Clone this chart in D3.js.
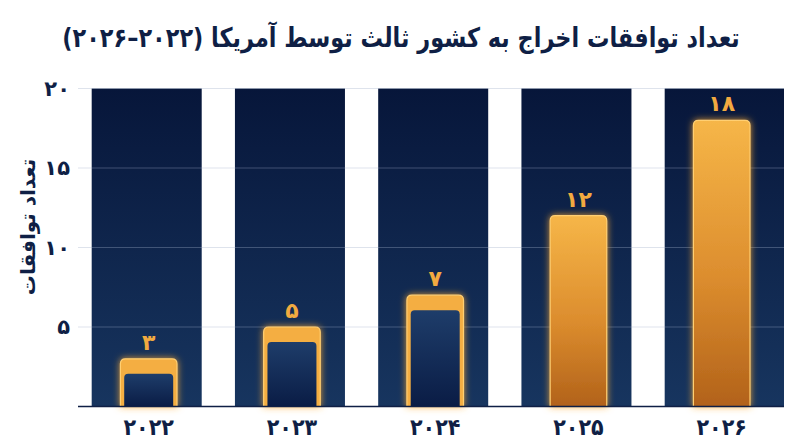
<!DOCTYPE html>
<html><head><meta charset="utf-8">
<script src="https://cdn.jsdelivr.net/npm/d3@7/dist/d3.min.js"></script>
<style>
html,body{margin:0;padding:0;background:#fff;}
svg{display:block;}
text{font-family:"DejaVu Sans",sans-serif;font-weight:bold;}
</style></head>
<body>
<svg id="c" width="800" height="447"></svg>
<script>
const years = [2022, 2023, 2024, 2025, 2026];
const values = [3, 5, 7, 12, 18];
const yTicks = [5, 10, 15, 20];
const filledYears = [2025, 2026];
const title = "تعداد توافقات اخراج به کشور ثالث توسط آمریکا (۲۰۲۲–۲۰۲۶)";
const yLabel = "تعداد توافقات";

const fa = n => String(n).replace(/\d/g, d => "۰۱۲۳۴۵۶۷۸۹"[d]);
const navy = "#0f1f45";

const svg = d3.select("#c");
const plotL = 78, plotR = 784, plotT = 88.5, plotB = 406.5;

const y = d3.scaleLinear().domain([0, 20]).range([plotB, plotT]);
const x = d3.scalePoint().domain(years).range([148.7, 721.7]);
const step = x.step();
const barW = step * 0.395;
const colL = step * 0.398, colW = step * 0.768;

const defs = svg.append("defs");
const colGrad = defs.append("linearGradient").attr("id","colG").attr("x1",0).attr("x2",0).attr("y1",0).attr("y2",1);
colGrad.append("stop").attr("offset","0%").attr("stop-color","#07163a");
colGrad.append("stop").attr("offset","100%").attr("stop-color","#17355f");
const orGrad = defs.append("linearGradient").attr("id","orG").attr("x1",0).attr("x2",0).attr("y1",0).attr("y2",1);
orGrad.append("stop").attr("offset","0%").attr("stop-color","#f6b648");
orGrad.append("stop").attr("offset","55%").attr("stop-color","#dc8d2e");
orGrad.append("stop").attr("offset","100%").attr("stop-color","#b2621a");
const inGrad = defs.append("linearGradient").attr("id","inG").attr("x1",0).attr("x2",0).attr("y1",0).attr("y2",1);
inGrad.append("stop").attr("offset","0%").attr("stop-color","#1e3d6a");
inGrad.append("stop").attr("offset","100%").attr("stop-color","#0a1c45");
const glow = defs.append("filter").attr("id","glow").attr("x","-40%").attr("y","-40%").attr("width","180%").attr("height","180%");
glow.append("feGaussianBlur").attr("in","SourceAlpha").attr("stdDeviation",3.5).attr("result","b");
glow.append("feFlood").attr("flood-color","#ffab2e").attr("flood-opacity",0.85);
glow.append("feComposite").attr("in2","b").attr("operator","in").attr("result","g");
const m = glow.append("feMerge");
m.append("feMergeNode").attr("in","g");
m.append("feMergeNode").attr("in","SourceGraphic");

// title
svg.append("text").attr("transform","translate(401,47) scale(0.83,1)").attr("text-anchor","middle")
  .attr("direction","rtl").attr("font-size",27).attr("fill",navy).text(title);

// background columns
svg.selectAll(".col").data(years).join("rect")
  .attr("x", d => x(d) - colL)
  .attr("y", plotT)
  .attr("width", (d,i) => i === years.length-1 ? plotR - (x(d) - colL) : colW)
  .attr("height", plotB - plotT)
  .attr("fill","url(#colG)");

// gridlines
svg.selectAll(".grid").data(yTicks).join("line")
  .attr("x1", plotL).attr("x2", plotR)
  .attr("y1", d => y(d)).attr("y2", d => y(d))
  .attr("stroke","rgb(160,175,200)").attr("stroke-opacity",0.35).attr("stroke-width",1.2);

// y tick labels
svg.selectAll(".yt").data(yTicks).join("text")
  .attr("x", 70).attr("y", d => y(d) + 7).attr("text-anchor","end")
  .attr("font-size",21).attr("fill",navy).text(d => fa(d));

// y label
svg.append("text").attr("transform",`translate(35,227) rotate(-90)`)
  .attr("text-anchor","middle").attr("direction","rtl").attr("font-size",20).attr("fill",navy).text(yLabel);

const data = years.map((yr,i) => ({yr, v: values[i], filled: filledYears.includes(yr)}));

function topRounded(x0, y0, w, h, r) {
  return `M${x0},${y0+h}V${y0+r}Q${x0},${y0} ${x0+r},${y0}H${x0+w-r}Q${x0+w},${y0} ${x0+w},${y0+r}V${y0+h}Z`;
}

const g = svg.append("g");
g.selectAll(".bar").data(data).join("path")
  .attr("d", d => topRounded(x(d.yr) - barW/2, y(d.v), barW, plotB - y(d.v), 5))
  .attr("fill", d => d.filled ? "url(#orG)" : "#f4ae42")
  .attr("stroke","#ffcf72").attr("stroke-width",1.2)
  .attr("filter","url(#glow)");

g.selectAll(".inner").data(data.filter(d => !d.filled)).join("path")
  .attr("d", d => topRounded(x(d.yr) - barW/2 + 3.8, y(d.v) + 15, barW - 7.6, plotB - y(d.v) - 15, 4))
  .attr("fill","url(#inG)");

// value labels
svg.selectAll(".vl").data(data).join("text")
  .attr("x", d => x(d.yr)).attr("y", d => y(d.v) - 9).attr("text-anchor","middle")
  .attr("font-size",22).attr("fill","#f2aa40").text(d => fa(d.v));

// baseline
svg.append("line").attr("x1",plotL).attr("x2",plotR).attr("y1",plotB).attr("y2",plotB)
  .attr("stroke",navy).attr("stroke-width",1.6);

// x labels
svg.selectAll(".xl").data(years).join("text")
  .attr("transform", d => `translate(${x(d)},435) scale(0.9,1)`).attr("text-anchor","middle")
  .attr("font-size",23).attr("fill",navy).text(d => fa(d));
</script>
</body></html>
